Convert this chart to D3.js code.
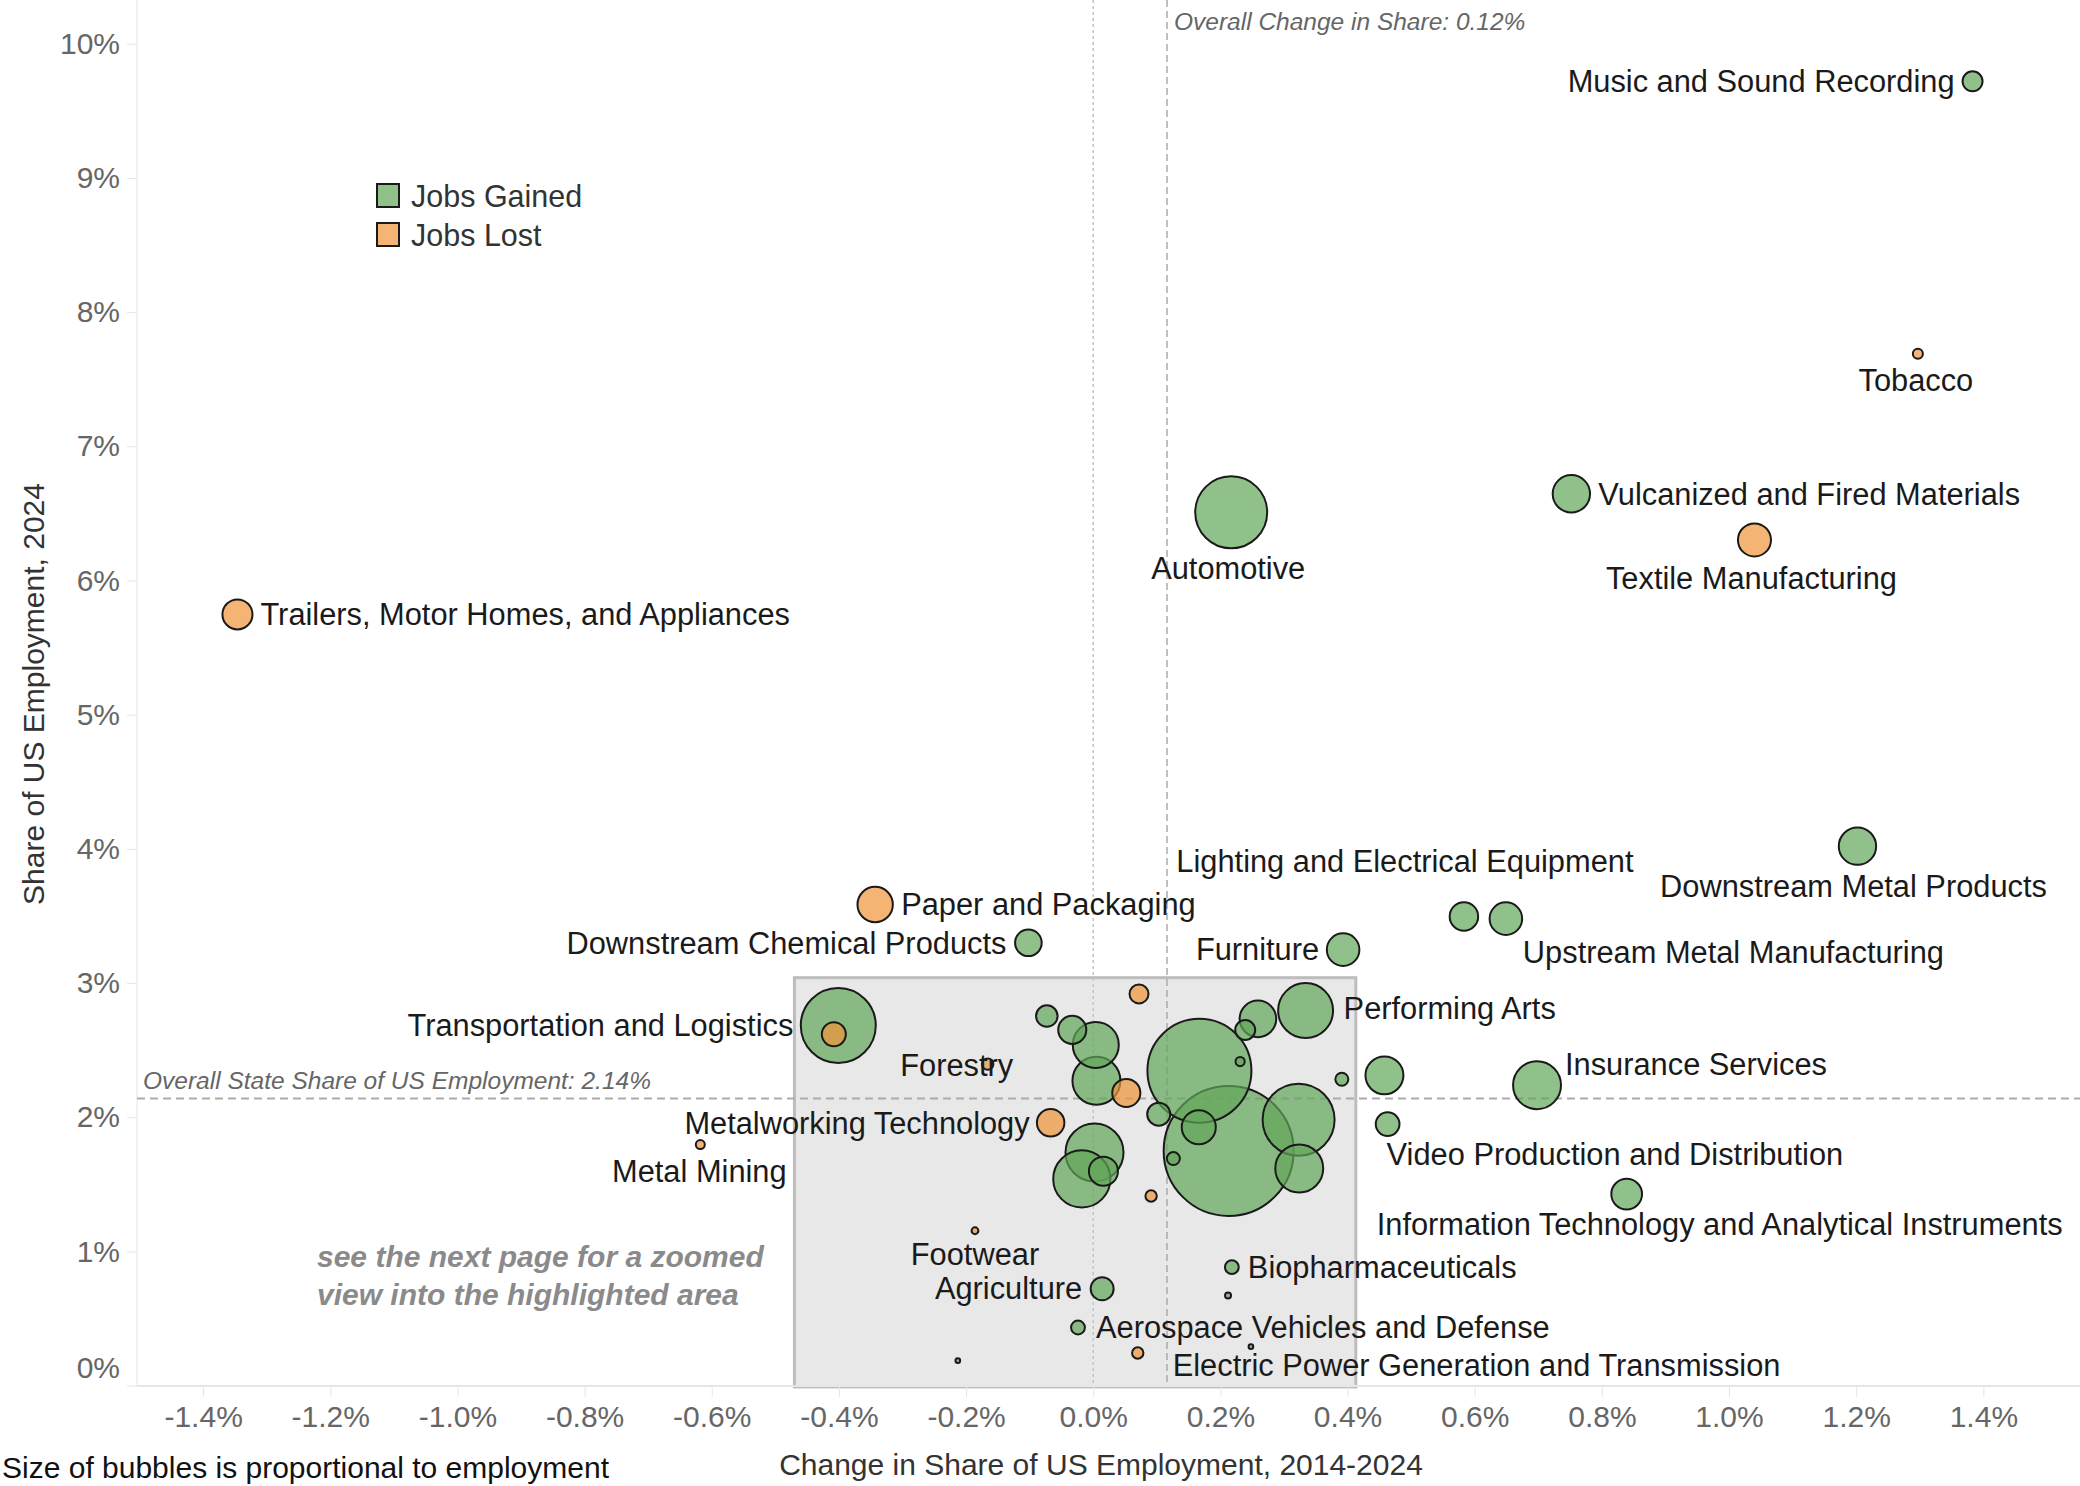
<!DOCTYPE html>
<html>
<head>
<meta charset="utf-8">
<script src="https://cdn.jsdelivr.net/npm/d3@7"></script>
<style>
  body { margin: 0; background: #fff; }
  svg { display: block; font-family: "Liberation Sans", Arial, sans-serif; }
</style>
</head>
<body>
<div class="chart"></div>
<script>
let width = 2080
let height = 1486

// clusters ('' = unlabeled bubble)
let clusters = [
    'Music and Sound Recording', 'Tobacco', 'Vulcanized and Fired Materials', 'Textile Manufacturing',
    'Automotive', 'Trailers, Motor Homes, and Appliances', 'Downstream Metal Products',
    'Lighting and Electrical Equipment', 'Upstream Metal Manufacturing', 'Paper and Packaging',
    'Downstream Chemical Products', 'Furniture', 'Performing Arts', 'Transportation and Logistics',
    '', 'Forestry', 'Insurance Services', '', '', 'Video Production and Distribution',
    'Metalworking Technology', 'Metal Mining', 'Information Technology and Analytical Instruments',
    'Biopharmaceuticals', '', 'Agriculture', 'Footwear', 'Aerospace Vehicles and Defense',
    'Electric Power Generation and Transmission', '', '',
    '', '', '', '', '', '', '', '', '', '', '', '', '', '', '', '', '', '', '', ''
]
// change in share of US employment 2014-2024 (%)
let changeShare = [
    1.383, 1.297, 0.752, 1.040, 0.217, -1.346, 1.202, 0.583, 0.649, -0.343,
    -0.102, 0.393, 0.334, -0.401, -0.408, -0.166, 0.698, 0.458, 0.391, 0.463,
    -0.067, -0.618, 0.839, 0.218, 0.212, 0.014, -0.186, -0.024, 0.070, 0.248, -0.213,
    0.072, -0.073, -0.033, 0.004, 0.005, 0.052, 0.167, 0.231, 0.239, 0.259,
    0.103, 0.166, 0.213, 0.323, 0.324, 0.126, 0.091, 0.002, -0.018, 0.016
]
// share of US employment 2024 (%)
let usShare = [
    9.72, 7.69, 6.646, 6.302, 6.508, 5.747, 4.02, 3.496, 3.48, 3.585,
    3.30, 3.249, 2.795, 2.684, 2.618, 2.396, 2.239, 2.312, 2.283, 1.949,
    1.959, 1.796, 1.427, 0.883, 0.672, 0.722, 1.154, 0.433, 0.243, 0.29, 0.186,
    2.919, 2.754, 2.651, 2.539, 2.272, 2.181, 2.346, 2.415, 2.65, 2.733,
    2.023, 1.926, 1.749, 1.981, 1.618, 1.692, 1.413, 1.737, 1.54, 1.598
]
// employment (bubble size)
let employment = [
    3550, 900, 12400, 9700, 46000, 8000, 12400, 7200, 9400, 11100,
    6300, 9400, 26800, 49900, 5100, 1150, 20400, 12800, 1500, 5000,
    6700, 720, 8400, 1700, 320, 4700, 410, 1700, 1150, 190, 190,
    3200, 4100, 7000, 18800, 20400, 7000, 96000, 750, 3550, 11900,
    4700, 10300, 150000, 46000, 20400, 1500, 1150, 29900, 29000, 7500
]
// G = jobs gained, L = jobs lost
let jobStatus = [
    'G', 'L', 'G', 'L', 'G', 'L', 'G', 'G', 'G', 'L',
    'G', 'G', 'G', 'G', 'L', 'L', 'G', 'G', 'G', 'G',
    'L', 'L', 'G', 'G', 'G', 'G', 'L', 'G', 'L', 'G', 'G',
    'L', 'G', 'G', 'G', 'G', 'L', 'G', 'G', 'G', 'G',
    'G', 'G', 'G', 'G', 'G', 'G', 'L', 'G', 'G', 'G'
]
let xTicks = [-1.4, -1.2, -1.0, -0.8, -0.6, -0.4, -0.2, 0.0, 0.2, 0.4, 0.6, 0.8, 1.0, 1.2, 1.4]
let yTicks = [0, 1, 2, 3, 4, 5, 6, 7, 8, 9, 10]
let overallChange = 0.116
let overallShare = 2.14
let zoomArea = { x0: -0.47, x1: 0.413, y0: -0.01, y1: 3.04 }
let legendItems = ['Jobs Gained', 'Jobs Lost']

// label placement: anchor, offset from bubble centre (px)
let labelPlace = {
    'Music and Sound Recording': ['end', -18, 0],
    'Tobacco': ['middle', -2, 27],
    'Vulcanized and Fired Materials': ['start', 27, 0],
    'Textile Manufacturing': ['middle', -3, 38],
    'Automotive': ['middle', -3, 56],
    'Trailers, Motor Homes, and Appliances': ['start', 23, 0],
    'Downstream Metal Products': ['middle', -4, 40],
    'Lighting and Electrical Equipment': ['middle', -59, -55],
    'Upstream Metal Manufacturing': ['start', 17, 34],
    'Paper and Packaging': ['start', 26, 0],
    'Downstream Chemical Products': ['end', -22, 0],
    'Furniture': ['end', -24, 0],
    'Performing Arts': ['start', 38, -2],
    'Transportation and Logistics': ['end', -45, 0],
    'Forestry': ['middle', -31, 1],
    'Insurance Services': ['start', 28, -21],
    'Video Production and Distribution': ['start', -1, 30],
    'Metalworking Technology': ['end', -21, 0],
    'Metal Mining': ['middle', -1, 27],
    'Information Technology and Analytical Instruments': ['middle', 93, 30],
    'Biopharmaceuticals': ['start', 16, 0],
    'Agriculture': ['end', -20, 0],
    'Footwear': ['middle', 0, 23],
    'Aerospace Vehicles and Defense': ['start', 18, 0],
    'Electric Power Generation and Transmission': ['start', 35, 12]
}

let fills = { G: '#63a75a', L: '#ef9438' }
let swatch = { G: '#91c18b', L: '#f4b474' }

let plot = { left: 137, right: 2080, top: 0, bottom: 1386 }

let xScale = d3.scaleLinear().domain([-1.504, 1.552]).range([plot.left, plot.right])
let yScale = d3.scaleLinear().domain([0, 10.326]).range([1385.6, plot.top])
let rScale = d3.scaleSqrt().domain([0, 150000]).range([0, 65])

let bubbles = clusters.map((name, i) => ({
    name: name,
    change: changeShare[i],
    share: usShare[i],
    emp: employment[i],
    status: jobStatus[i]
}))

let svg = d3.select('div.chart')
    .append('svg')
    .attr('width', width)
    .attr('height', height)

// highlighted area
svg.append('rect')
    .attr('x', xScale(zoomArea.x0))
    .attr('y', yScale(zoomArea.y1))
    .attr('width', xScale(zoomArea.x1) - xScale(zoomArea.x0))
    .attr('height', yScale(zoomArea.y0) - yScale(zoomArea.y1))
    .style('fill', '#e8e8e8')
    .style('stroke', '#bdbdbd')
    .style('stroke-width', 3)

// axis lines
svg.append('line')
    .attr('x1', plot.left).attr('x2', plot.left)
    .attr('y1', 0).attr('y2', plot.bottom)
    .style('stroke', '#ececec').style('stroke-width', 1.5)
svg.append('line')
    .attr('x1', plot.left).attr('x2', plot.right)
    .attr('y1', plot.bottom).attr('y2', plot.bottom)
    .style('stroke', '#e6e6e6').style('stroke-width', 2)

let yAxis = svg.append('g')
    .attr('transform', 'translate(' + plot.left + ',0)')
    .call(d3.axisLeft(yScale).tickValues(yTicks).tickFormat(d => d + '%').tickSize(10).tickPadding(7))
yAxis.select('.domain').remove()
yAxis.selectAll('line').style('stroke', '#e6e6e6')
yAxis.selectAll('text')
    .style('font-size', '30px')
    .style('fill', '#666')
    .style('font-family', '"Liberation Sans", Arial, sans-serif')
yAxis.selectAll('.tick').filter(d => d === 0).select('text').attr('y', -18)

// plain hyphen for negatives, as in the original
let pctFormat = d => d.toFixed(1) + '%'

let xAxis = svg.append('g')
    .attr('transform', 'translate(0,' + plot.bottom + ')')
    .call(d3.axisBottom(xScale).tickValues(xTicks).tickFormat(pctFormat).tickSize(11).tickPadding(9))
xAxis.select('.domain').remove()
xAxis.selectAll('line').style('stroke', '#e6e6e6')
xAxis.selectAll('text')
    .style('font-size', '30px')
    .style('fill', '#666')
    .style('font-family', '"Liberation Sans", Arial, sans-serif')

// reference lines
svg.append('line')
    .attr('x1', xScale(0)).attr('x2', xScale(0))
    .attr('y1', 0).attr('y2', plot.bottom)
    .style('stroke', '#c4c4c4').style('stroke-width', 1.5)
    .style('stroke-dasharray', '3,3')
svg.append('line')
    .attr('x1', xScale(overallChange)).attr('x2', xScale(overallChange))
    .attr('y1', 0).attr('y2', plot.bottom)
    .style('stroke', '#ababab').style('stroke-width', 1.5)
    .style('stroke-dasharray', '7,4')
svg.append('line')
    .attr('x1', plot.left).attr('x2', plot.right)
    .attr('y1', yScale(overallShare)).attr('y2', yScale(overallShare))
    .style('stroke', '#ababab').style('stroke-width', 2)
    .style('stroke-dasharray', '8,5')

svg.append('text')
    .attr('x', xScale(overallChange) + 7)
    .attr('y', 30)
    .style('font-size', '24.5px')
    .style('font-style', 'italic')
    .style('fill', '#666')
    .text('Overall Change in Share: ' + overallChange.toFixed(2) + '%')
svg.append('text')
    .attr('x', plot.left + 6)
    .attr('y', yScale(overallShare) - 9)
    .style('font-size', '24.5px')
    .style('font-style', 'italic')
    .style('fill', '#666')
    .text('Overall State Share of US Employment: ' + overallShare.toFixed(2) + '%')

// bubbles, largest first so the small ones stay visible
svg.append('g')
    .selectAll('circle')
    .data(bubbles.slice().sort((a, b) => b.emp - a.emp))
    .enter()
    .append('circle')
    .attr('cx', d => xScale(d.change))
    .attr('cy', d => yScale(d.share))
    .attr('r', d => rScale(d.emp))
    .style('fill', d => fills[d.status])
    .style('fill-opacity', 0.7)
    .style('stroke', '#1a1a1a')
    .style('stroke-width', 2)

// labels
svg.append('g')
    .selectAll('text')
    .data(bubbles.filter(d => d.name !== ''))
    .enter()
    .append('text')
    .attr('x', d => xScale(d.change) + labelPlace[d.name][1])
    .attr('y', d => yScale(d.share) + labelPlace[d.name][2])
    .attr('dy', '0.35em')
    .attr('text-anchor', d => labelPlace[d.name][0])
    .style('font-size', '30.8px')
    .style('fill', '#1a1a1a')
    .text(d => d.name)

// legend
let legend = svg.append('g')
    .selectAll('g')
    .data(legendItems)
    .enter()
    .append('g')
    .attr('transform', (d, i) => 'translate(377,' + (184 + i * 39) + ')')
legend.append('rect')
    .attr('width', 22)
    .attr('height', 23)
    .style('fill', (d, i) => swatch[i === 0 ? 'G' : 'L'])
    .style('stroke', '#1a1a1a')
    .style('stroke-width', 2)
legend.append('text')
    .attr('x', 34)
    .attr('y', 12)
    .attr('dy', '0.35em')
    .style('font-size', '30.5px')
    .style('fill', '#333')
    .text(d => d)

// zoom note
let note = svg.append('text')
    .attr('x', 317)
    .style('font-size', '30px')
    .style('font-weight', 'bold')
    .style('font-style', 'italic')
    .style('fill', '#8a8a8a')
note.append('tspan').attr('x', 317).attr('y', 1267).text('see the next page for a zoomed')
note.append('tspan').attr('x', 317).attr('y', 1305).text('view into the highlighted area')

// axis titles
svg.append('text')
    .attr('x', 1101)
    .attr('y', 1475)
    .attr('text-anchor', 'middle')
    .style('font-size', '30px')
    .style('fill', '#333')
    .text('Change in Share of US Employment, 2014-2024')
svg.append('text')
    .attr('transform', 'translate(33,694) rotate(-90)')
    .attr('dy', '0.35em')
    .attr('text-anchor', 'middle')
    .style('font-size', '30px')
    .style('fill', '#333')
    .text('Share of US Employment, 2024')

svg.append('text')
    .attr('x', 2)
    .attr('y', 1478)
    .style('font-size', '30px')
    .style('fill', '#111')
    .text('Size of bubbles is proportional to employment')
</script>
</body>
</html>
